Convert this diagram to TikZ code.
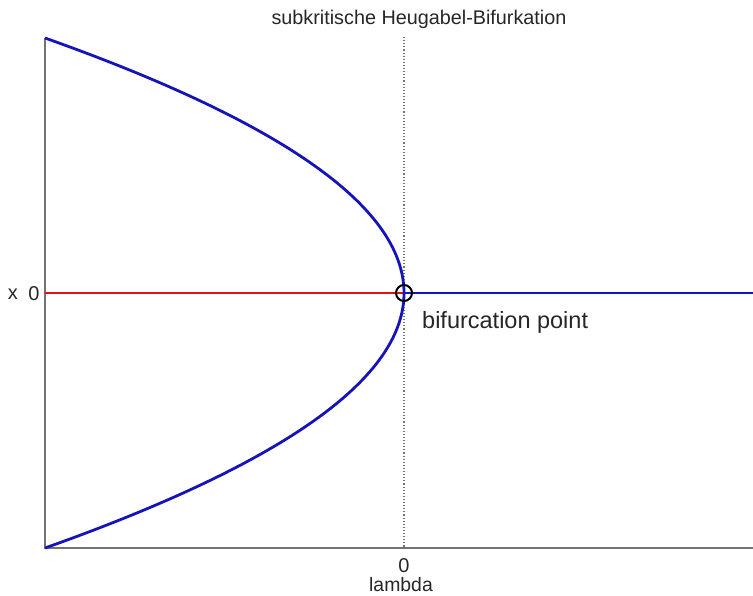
\documentclass[tikz,border=0pt]{standalone}
\usepackage{fontspec}
\setmainfont{Liberation Sans}
\definecolor{curveblue}{RGB}{20,20,185}
\definecolor{curvered}{RGB}{225,20,20}
\definecolor{axisgray}{RGB}{115,115,115}
\tikzset{
  axisline/.style={axisgray, line width=1.5pt},
  branch/.style={line width=2.8pt},
  lbl/.style={inner sep=0pt, text=black!85},
}
\begin{document}
\begin{tikzpicture}[x=1pt,y=-1pt]
\useasboundingbox (0,0) rectangle (753,595);
\coordinate (top) at (45,38);
\coordinate (origin) at (45,548);
\coordinate (right) at (753,548);
\coordinate (dtop) at (404,37);
\coordinate (dbot) at (404,548);
\coordinate (left0) at (45,293);
\coordinate (right0) at (753,293);
% dotted line
\draw[black!55, line width=1.1pt, dotted] (dtop) -- (dbot);
% axes
\draw[axisline] (top) -- (origin) -- (right);
% branches
\draw[branch, curvered] (left0) -- (404,293);
\draw[branch, curveblue] (404,293) -- (right0);
\draw[branch, curveblue] plot[domain=-255:255, samples=121, smooth] ({404-359*(\x/255)^2}, {293+\x});
% bifurcation point
\node[circle, draw=black, line width=2pt, minimum size=16pt, inner sep=0pt] (bp) at (404,293) {};
\node[lbl, anchor=west, font=\fontsize{23.5}{24}\selectfont] (bpl) at (422,322) {bifurcation point};
% labels
\node[lbl, font=\fontsize{19.8}{20}\selectfont] (title) at (419,19) {subkritische Heugabel-Bifurkation};
\node[lbl, font=\fontsize{20}{20}\selectfont] (xl) at (13,294) {x};
\node[lbl, font=\fontsize{20}{20}\selectfont] (y0) at (34,294) {0};
\node[lbl, font=\fontsize{20}{20}\selectfont] (l0) at (404,566) {0};
\node[lbl, font=\fontsize{19.4}{20}\selectfont] (lam) at (401,585) {lambda};
\end{tikzpicture}
\end{document}
